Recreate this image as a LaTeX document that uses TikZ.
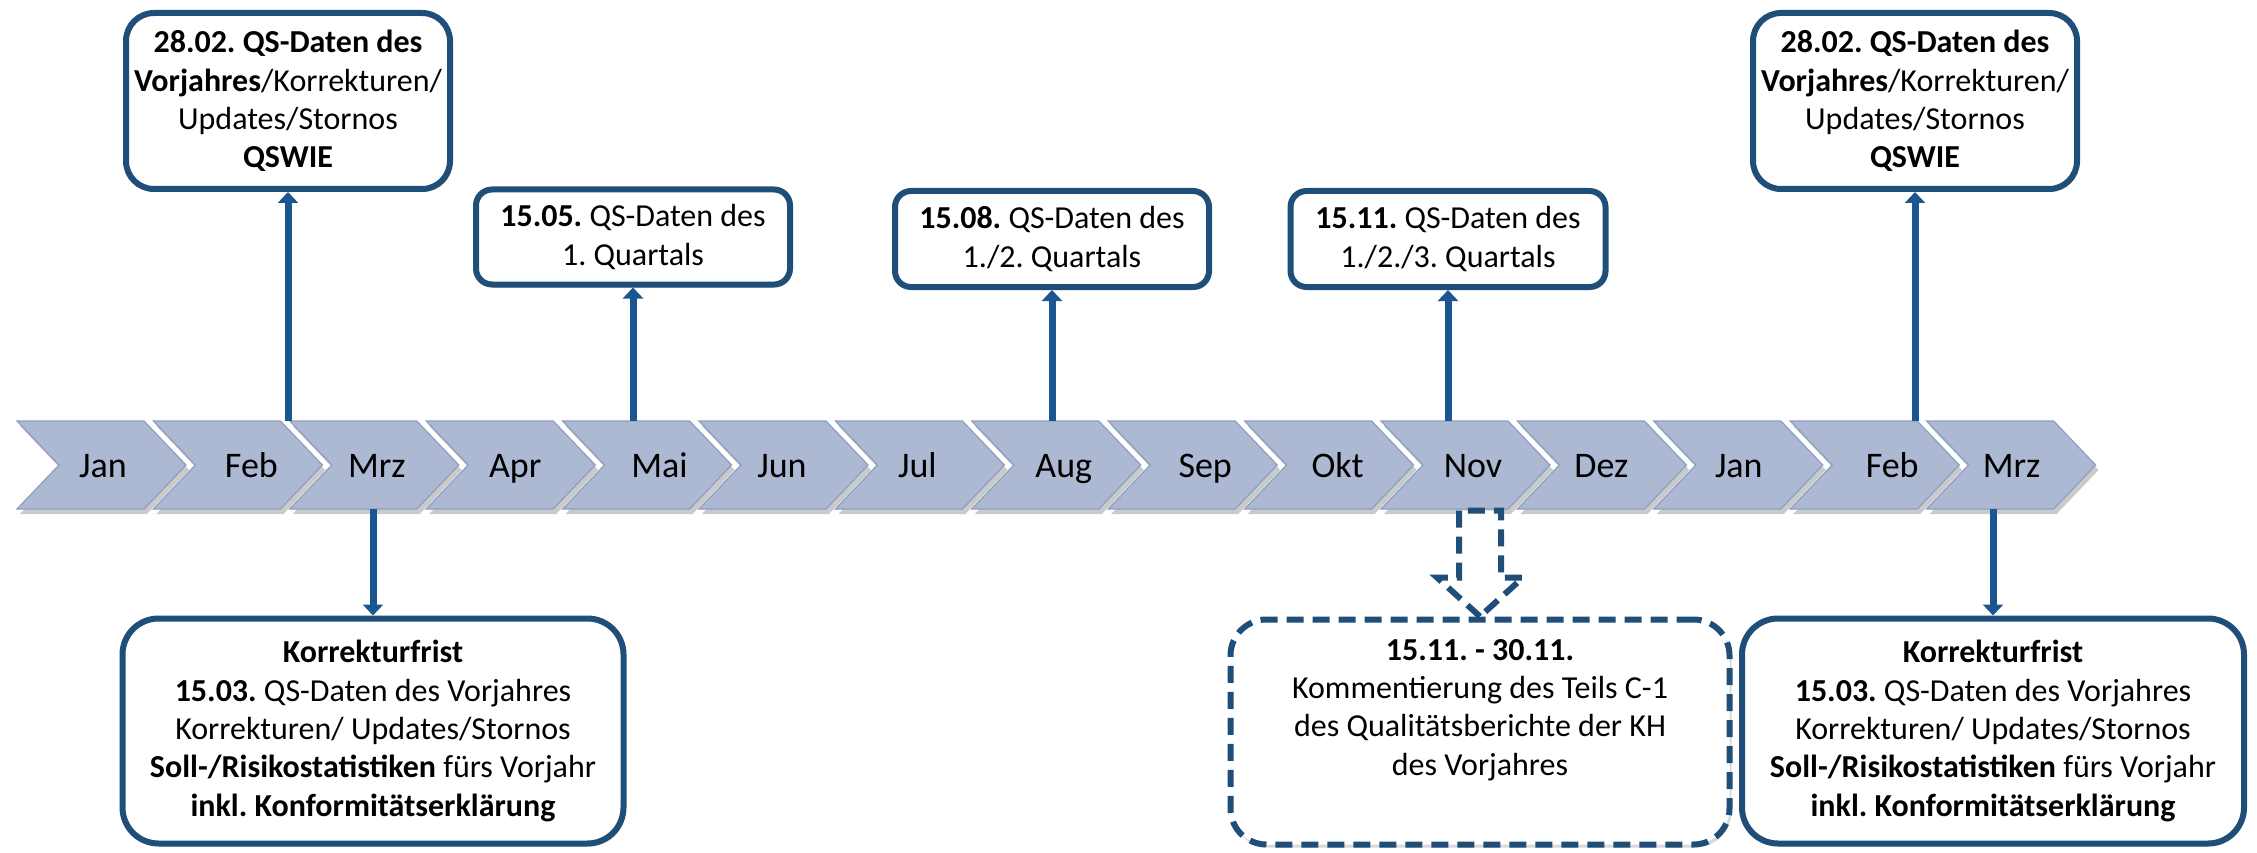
\documentclass[tikz,border=0pt]{standalone}
\usepackage{fontspec}
\setmainfont{Carlito}
\usetikzlibrary{arrows.meta,shadows}
\definecolor{boxblue}{RGB}{31,78,121}
\definecolor{arrblue}{RGB}{28,86,145}
\definecolor{chevfill}{RGB}{173,185,210}
\definecolor{chevline}{RGB}{140,158,196}
\begin{document}
\frenchspacing
\begin{tikzpicture}[x=1pt,y=-1pt,
  chev/.style={fill=chevfill, draw=chevline, line width=1.2pt,
    drop shadow={shadow xshift=3pt, shadow yshift=-5pt, opacity=0.35, fill=black!60}},
  month/.style={anchor=base, inner sep=0pt, font=\fontsize{36}{40}\selectfont},
  tbox/.style={draw=boxblue, line width=6pt, fill=white, align=center, inner sep=0pt,
    font=\fontsize{32}{38.3}\selectfont,
    drop shadow={shadow xshift=2pt, shadow yshift=-3pt, opacity=0.25, fill=black!60}},
  dashline/.style={dash pattern=on 17pt off 9pt},
  conn/.style={draw=arrblue, line width=7pt, -{Triangle[width=20pt,length=11pt]}},
]
\useasboundingbox (0,0) rectangle (2257,853);
\coordinate (chtop) at (0,421);
\coordinate (chbot) at (0,509);
% timeline chevrons
\foreach \m/\dx [count=\i from 0] in {Jan/86,Feb/98,Mrz/87,Apr/89,Mai/97,Jun/83,Jul/82,Aug/92,Sep/97,Okt/93,Nov/92,Dez/84,Jan/85,Feb/102,Mrz/85}{
  \pgfmathsetmacro\xl{17+136.4*\i}
  \path[chev] (\xl,421) -- ++(127,0) -- ++(42,44) -- ++(-42,44) -- ++(-127,0) -- ++(42,-44) -- cycle;
  \node[month] (m\i) at (\xl+\dx,477) {\m};
}
% boxes above
\node[tbox, rounded corners=28pt, minimum width=324pt, minimum height=176pt] (A) at (288,101)
  {\textbf{28.02. QS-Daten des}\\\textbf{Vorjahres}/Korrekturen/\\Updates/Stornos\\\textbf{QSWIE}};
\node[tbox, rounded corners=16pt, minimum width=314pt, minimum height=95pt] (B) at (633,237)
  {\textbf{15.05.} QS-Daten des\\1. Quartals};
\node[tbox, rounded corners=16pt, minimum width=314pt, minimum height=96pt] (C) at (1052,239)
  {\textbf{15.08.} QS-Daten des\\1./2. Quartals};
\node[tbox, rounded corners=16pt, minimum width=315pt, minimum height=96pt] (D) at (1448,239)
  {\textbf{15.11.} QS-Daten des\\1./2./3. Quartals};
\node[tbox, rounded corners=28pt, minimum width=324pt, minimum height=176pt] (E) at (1915,101)
  {\textbf{28.02. QS-Daten des}\\\textbf{Vorjahres}/Korrekturen/\\Updates/Stornos\\\textbf{QSWIE}};
% boxes below
\node[tbox, rounded corners=36pt, minimum width=501pt, minimum height=225pt] (F) at (373,731)
  {\textbf{Korrekturfrist}\\\textbf{15.03.} QS-Daten des Vorjahres\\Korrekturen/ Updates/Stornos\\\textbf{Soll-/Risikostatistiken} fürs Vorjahr\\\textbf{inkl. Konformitätserklärung}};
\node[tbox, dashline, rounded corners=36pt, minimum width=499pt, minimum height=225pt] (G) at (1480,732)
  {\textbf{15.11. - 30.11.}\\Kommentierung des Teils C-1\\des Qualitätsberichte der KH\\des Vorjahres\\\strut};
\node[tbox, rounded corners=36pt, minimum width=502pt, minimum height=225pt] (H) at (1993,731)
  {\textbf{Korrekturfrist}\\\textbf{15.03.} QS-Daten des Vorjahres\\Korrekturen/ Updates/Stornos\\\textbf{Soll-/Risikostatistiken} fürs Vorjahr\\\textbf{inkl. Konformitätserklärung}};
% connectors
\draw[conn] (A.south |- chtop) -- (A.south);
\draw[conn] (B.south |- chtop) -- (B.south);
\draw[conn] (C.south |- chtop) -- (C.south);
\draw[conn] (D.south |- chtop) -- (D.south);
\draw[conn] (E.south |- chtop) -- (E.south);
\draw[conn] (F.north |- chbot) -- (F.north);
\draw[conn] (H.north |- chbot) -- (H.north);
% dashed block arrow
\draw[draw=boxblue, line width=6pt, dashline, fill=white, line join=miter]
  (G.north) -- ([shift={(-43,-39)}]G.north) -- ([shift={(-21,-39)}]G.north)
  -- ([shift={(-21,-106)}]G.north) -- ([shift={(21,-106)}]G.north)
  -- ([shift={(21,-39)}]G.north) -- ([shift={(43,-39)}]G.north) -- cycle;
\end{tikzpicture}
\end{document}
